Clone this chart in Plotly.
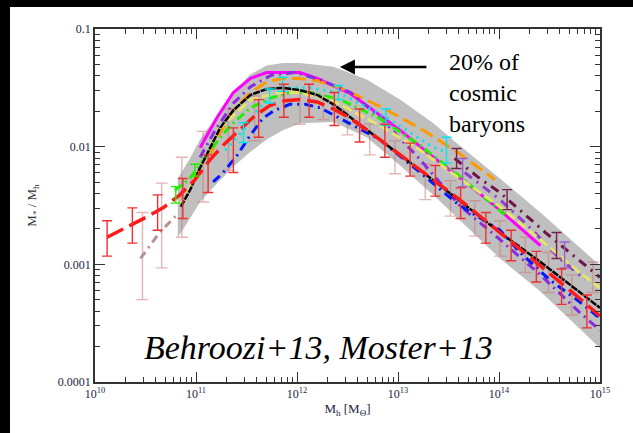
import numpy as np
import plotly.graph_objects as go

# all values are log10; x = halo mass, y = stellar-to-halo mass ratio
band_logm = [10.82, 10.94, 11.04, 11.21, 11.37, 11.53, 11.70, 11.86, 12.03, 12.36, 12.69, 13.02, 13.35, 13.61, 14.01, 14.41, 15.0]
band_hi = [-2.27, -2.10, -1.94, -1.73, -1.54, -1.39, -1.31, -1.29, -1.29, -1.32, -1.43, -1.60, -1.80, -1.99, -2.27, -2.56, -3.01]
band_lo = [-2.77, -2.61, -2.47, -2.31, -2.17, -2.05, -1.94, -1.86, -1.80, -1.79, -1.92, -2.16, -2.41, -2.62, -2.95, -3.23, -3.71]

behroozi_logm = [10.85, 10.94, 11.04, 11.14, 11.24, 11.37, 11.54, 11.70, 11.86, 12.03, 12.20, 12.36, 12.53, 12.82, 13.22, 13.61, 14.01, 14.41, 14.80, 15.0]
behroozi_r = [-2.51, -2.37, -2.18, -2.01, -1.84, -1.69, -1.56, -1.51, -1.50, -1.52, -1.56, -1.64, -1.75, -1.94, -2.20, -2.46, -2.73, -2.98, -3.24, -3.37]

moster_logm = [10.12, 10.35, 10.55, 10.69, 10.84, 10.99, 11.14, 11.29, 11.44, 11.58, 11.73, 11.88, 12.03, 12.20, 12.36, 12.53, 12.82, 13.22, 13.61, 14.01, 14.41, 14.80, 15.0]
moster_r = [-2.77, -2.67, -2.58, -2.51, -2.41, -2.28, -2.11, -1.97, -1.85, -1.74, -1.65, -1.61, -1.60, -1.62, -1.68, -1.76, -1.94, -2.20, -2.45, -2.73, -3.01, -3.29, -3.44]

magenta_logm = [11.04, 11.21, 11.37, 11.54, 11.70, 11.86, 12.03, 12.20, 12.36, 12.53, 12.69, 13.02, 13.35, 13.68, 14.01, 14.41]
magenta_r = [-2.01, -1.75, -1.54, -1.42, -1.37, -1.37, -1.37, -1.42, -1.48, -1.55, -1.65, -1.86, -2.09, -2.31, -2.54, -2.84]

orange_logm = [11.14, 11.24, 11.37, 11.54, 11.70, 11.86, 12.03, 12.20, 12.43, 12.85, 13.25, 13.61, 13.96]
orange_r = [-2.07, -1.88, -1.69, -1.54, -1.45, -1.42, -1.42, -1.44, -1.50, -1.67, -1.86, -2.06, -2.28]

purple_logm = [11.04, 11.19, 11.37, 11.54, 11.75, 11.98, 12.23, 12.53, 12.82, 13.22, 13.61, 14.01, 14.41, 14.80, 15.0]
purple_r = [-2.09, -1.86, -1.63, -1.49, -1.39, -1.37, -1.43, -1.54, -1.75, -2.11, -2.50, -2.79, -3.09, -3.41, -3.56]

yellow_logm = [10.85, 11.04, 11.24, 11.54, 11.83, 12.03, 12.33, 12.82, 13.22, 13.61, 14.01, 14.41, 14.80, 15.0]
yellow_r = [-2.50, -2.18, -1.84, -1.60, -1.54, -1.54, -1.60, -1.82, -2.03, -2.27, -2.51, -2.79, -3.07, -3.20]

green_logm = [10.79, 10.94, 11.14, 11.34, 11.54, 11.73, 11.93, 12.13, 12.43, 12.82, 13.22, 13.61, 14.06]
green_r = [-2.37, -2.27, -2.03, -1.82, -1.67, -1.59, -1.54, -1.54, -1.60, -1.76, -1.99, -2.25, -2.58]

blue_logm = [11.17, 11.27, 11.41, 11.54, 11.66, 11.78, 11.93, 12.08, 12.23, 12.43, 12.82, 13.22, 13.61, 14.01, 14.21, 14.50, 14.80, 15.0]
blue_r = [-2.30, -2.22, -2.07, -1.90, -1.76, -1.69, -1.64, -1.64, -1.67, -1.76, -1.94, -2.22, -2.50, -2.71, -2.90, -3.13, -3.32, -3.46]

maroon_logm = [13.56, 13.81, 14.01, 14.21, 14.46, 14.70, 15.0]
maroon_r = [-2.10, -2.27, -2.39, -2.54, -2.73, -2.90, -3.11]

violet_logm = [13.66, 14.01, 14.31, 14.60, 14.85]
violet_r = [-2.22, -2.45, -2.69, -2.95, -3.13]

cyan_logm = [11.29, 11.47, 11.63, 11.86, 12.13, 12.41, 12.88, 13.32, 13.48]
cyan_r = [-2.03, -1.86, -1.67, -1.50, -1.50, -1.54, -1.75, -1.99, -2.05]

rosy_logm = [10.45, 10.64, 10.82]
rosy_r = [-2.95, -2.73, -2.57]

# data points with errors (log10 centre, error in dex)
moster_pts_logm = [10.12, 10.37, 10.62, 10.87, 11.12, 11.37, 11.62, 11.87, 12.12, 12.37, 12.62, 12.87, 13.12, 13.37, 13.62, 13.87, 14.12, 14.37, 14.62, 14.87]
moster_pts_r = [-2.78, -2.67, -2.56, -2.44, -2.23, -2.03, -1.76, -1.61, -1.61, -1.68, -1.82, -1.95, -2.11, -2.29, -2.48, -2.69, -2.84, -3.02, -3.19, -3.40]
moster_pts_err = [0.15, 0.15, 0.15, 0.17, 0.16, 0.19, 0.16, 0.14, 0.14, 0.14, 0.14, 0.14, 0.14, 0.13, 0.13, 0.13, 0.13, 0.13, 0.15, 0.14]

rosy_pts_logm = [10.47, 10.66, 10.86, 11.07, 11.32, 11.58, 12.03, 12.26, 12.50, 12.72, 12.97, 13.27, 13.52, 13.76, 14.01, 14.26, 14.49, 14.72, 14.93]
rosy_pts_r = [-2.93, -2.67, -2.43, -2.17, -1.94, -1.76, -1.67, -1.67, -1.79, -1.94, -2.09, -2.30, -2.44, -2.61, -2.78, -2.92, -3.07, -3.26, -3.11]
rosy_pts_err = [0.37, 0.36, 0.34, 0.30, 0.26, 0.19, 0.14, 0.10, 0.11, 0.13, 0.14, 0.15, 0.15, 0.15, 0.15, 0.15, 0.17, 0.17, 0.13]

cyan_pts_logm = [11.47, 11.73, 11.86, 12.41, 12.88, 13.48]
cyan_pts_r = [-1.88, -1.57, -1.47, -1.54, -1.75, -2.03]
cyan_pts_err = [0.085, 0.06, 0.06, 0.06, 0.07, 0.11]

green_pts_logm = [10.80, 10.99]
green_pts_r = [-2.41, -2.20]
green_pts_err = [0.07, 0.05]

maroon_pts_logm = [13.58, 14.08, 14.57]
maroon_pts_r = [-2.10, -2.45, -2.84]
maroon_pts_err = [0.085, 0.085, 0.11]

violet_pts_logm = [13.64, 14.65]
violet_pts_r = [-2.22, -2.92]
violet_pts_err = [0.12, 0.11]

SERIF = 'Liberation Serif, Times New Roman, Times, DejaVu Serif, serif'


def pw(a):
    return [10 ** v for v in a]


def err_trace(lm, lr, le, color, width=5, thick=1.4):
    y = np.array(pw(lr))
    e = np.array(le)
    return go.Scatter(
        x=pw(lm), y=y, mode='markers',
        marker=dict(size=1, color=color),
        error_y=dict(type='data', symmetric=False,
                     array=y * (10 ** e - 1), arrayminus=y * (1 - 10 ** -e),
                     color=color, thickness=thick, width=width),
        showlegend=False, hoverinfo='skip')


def line_trace(lm, lr, color, dash='solid', width=3):
    return go.Scatter(x=pw(lm), y=pw(lr), mode='lines',
                      line=dict(color=color, dash=dash, width=width),
                      showlegend=False, hoverinfo='skip')


fig = go.Figure()

# grey uncertainty band
fig.add_trace(go.Scatter(
    x=pw(band_logm + band_logm[::-1]), y=pw(band_hi + band_lo[::-1]),
    fill='toself', fillcolor='#bfbfbf', line=dict(width=0),
    mode='lines', showlegend=False, hoverinfo='skip'))

fig.add_trace(err_trace(rosy_pts_logm, rosy_pts_r, rosy_pts_err, 'rgba(205,120,120,0.55)', width=6))
fig.add_trace(line_trace(rosy_logm, rosy_r, '#b89090', dash='8px,5px,2px,5px', width=3))

fig.add_trace(line_trace(magenta_logm, magenta_r, '#ff00ff'))
fig.add_trace(line_trace(orange_logm, orange_r, '#ff9900', dash='14px,6px'))
fig.add_trace(line_trace(purple_logm, purple_r, '#8a2be2', dash='9px,5px,2px,5px'))
fig.add_trace(line_trace(maroon_logm, maroon_r, '#6e1446', dash='9px,6px,2px,6px'))
fig.add_trace(line_trace(violet_logm, violet_r, '#9040c8', dash='9px,6px,2px,6px'))
fig.add_trace(line_trace(cyan_logm, cyan_r, '#00e5f0', dash='2px,5px'))
fig.add_trace(line_trace(green_logm, green_r, '#22ee00', dash='9px,4px,2px,4px'))
fig.add_trace(line_trace(yellow_logm, yellow_r, '#e4e46a', dash='10px,4px'))
fig.add_trace(line_trace(blue_logm, blue_r, '#0018ff', dash='9px,5px,2px,5px'))
fig.add_trace(line_trace(behroozi_logm, behroozi_r, '#000000', dash='7px,1px', width=2.5))
fig.add_trace(line_trace(moster_logm, moster_r, '#ff1a1a', dash='18px,7px', width=3.5))

fig.add_trace(err_trace(cyan_pts_logm, cyan_pts_r, cyan_pts_err, '#00e5f0'))
fig.add_trace(err_trace(green_pts_logm, green_pts_r, green_pts_err, '#22ee00'))
fig.add_trace(err_trace(maroon_pts_logm, maroon_pts_r, maroon_pts_err, '#7a2050'))
fig.add_trace(err_trace(violet_pts_logm, violet_pts_r, violet_pts_err, '#9a60d0'))
fig.add_trace(err_trace(moster_pts_logm, moster_pts_r, moster_pts_err, '#ee3030'))

axis_font = dict(family=SERIF, size=12, color='#1c2440')
x_minor = [m * 10 ** d for d in range(10, 15) for m in range(2, 10)]
y_minor = [m * 10 ** d for d in range(-4, -1) for m in range(2, 10)]


def axis_style(minor_vals):
    return dict(type='log', showline=True, linecolor='#333333', linewidth=1.5,
                mirror='allticks', ticks='inside', ticklen=10, tickwidth=1,
                tickcolor='#333333', showgrid=False, zeroline=False,
                tickfont=axis_font, automargin=False,
                minor=dict(tickvals=minor_vals, ticks='inside', ticklen=5,
                           tickwidth=1, tickcolor='#333333', showgrid=False))


fig.update_layout(
    width=633, height=433,
    margin=dict(l=95, r=33, t=29, b=51),
    paper_bgcolor='white', plot_bgcolor='white',
    xaxis=dict(range=[10, 15],
               tickvals=[1e10, 1e11, 1e12, 1e13, 1e14, 1e15],
               ticktext=['10<sup>10</sup>', '10<sup>11</sup>', '10<sup>12</sup>',
                         '10<sup>13</sup>', '10<sup>14</sup>', '10<sup>15</sup>'],
               title=dict(text='M<sub>h</sub> [M<sub>\u0398</sub>]', standoff=4,
                          font=dict(family=SERIF, size=13, color='#1c2440')),
               **axis_style(x_minor)),
    yaxis=dict(range=[-4, -1],
               tickvals=[1e-4, 1e-3, 1e-2, 1e-1],
               ticktext=['0.0001', '0.001', '0.01', '0.1'],
               title=dict(text='M<sub>*</sub> / M<sub>h</sub>', standoff=18,
                          font=dict(family=SERIF, size=13, color='#333333')),
               **axis_style(y_minor)),
    shapes=[
        dict(type='rect', xref='paper', yref='paper', x0=-0.19, x1=-0.1683,
             y0=-0.15, y1=1.09, fillcolor='black', line=dict(width=0)),
        dict(type='rect', xref='paper', yref='paper', x0=-0.19, x1=1.07,
             y0=1.0623, y1=1.09, fillcolor='black', line=dict(width=0)),
    ],
    annotations=[
        dict(xref='paper', yref='paper', x=0.485, y=0.892, ax=88, ay=0,
             showarrow=True, arrowhead=2, arrowsize=1.2, arrowwidth=2.5,
             arrowcolor='black', text=''),
        dict(xref='paper', yref='paper', x=0.697, y=0.95, xanchor='left', yanchor='top',
             align='left', showarrow=False, text='20% of<br>cosmic<br>baryons',
             font=dict(family=SERIF, size=24, color='black')),
        dict(xref='paper', yref='paper', x=0.4416, y=0.099, xanchor='center', yanchor='middle',
             showarrow=False, text='<i>Behroozi+13, Moster+13</i>',
             font=dict(family=SERIF, size=34, color='black')),
    ],
)

fig.write_html('out.html', config={'displayModeBar': False},
               post_script="document.body.style.margin='0';")
